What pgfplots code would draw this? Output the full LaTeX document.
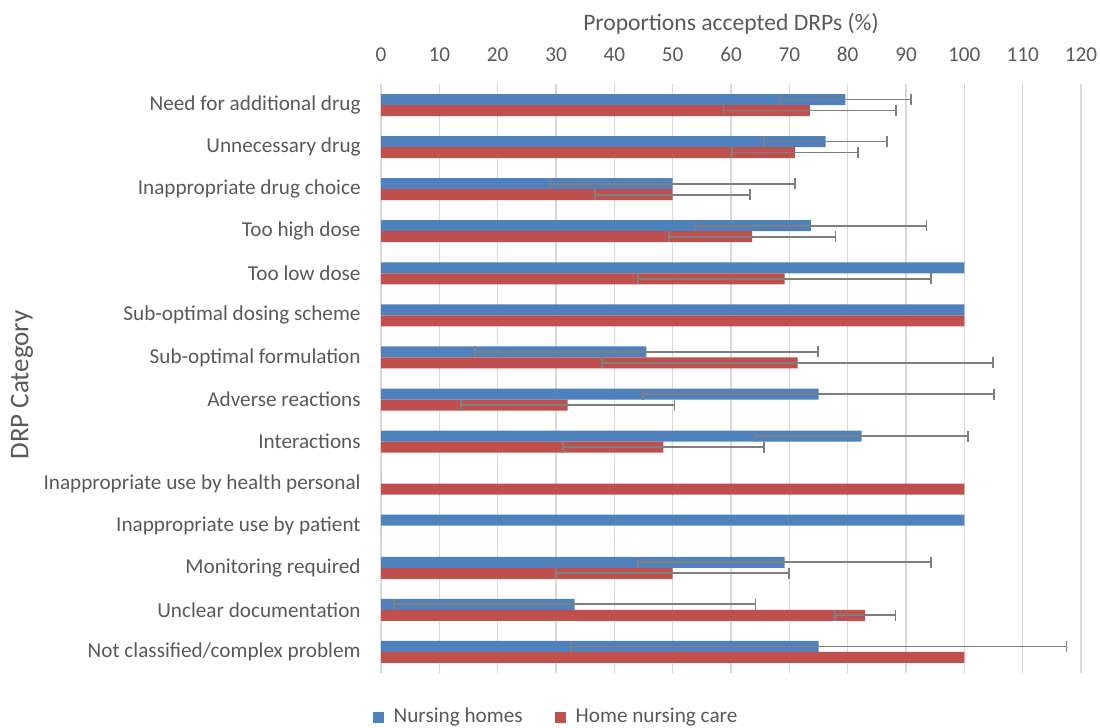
\documentclass[border=0pt]{standalone}
\usepackage{fontspec}
\setmainfont{Carlito}
\usepackage{pgfplots}
\pgfplotsset{compat=1.18}
\definecolor{nhblue}{HTML}{4F81BD}
\definecolor{hcred}{HTML}{C0504D}
\definecolor{txt}{HTML}{595959}
\definecolor{gridc}{HTML}{D9D9D9}
\definecolor{errc}{HTML}{7F7F7F}
\begin{document}
\begin{tikzpicture}
\begin{axis}[
 scale only axis, width=350pt, height=294.5pt,
 xmin=0, xmax=120, ymin=0.5, ymax=14.5,
 xtick={0,10,...,120},
 ytick={1,...,14},
 yticklabels={Not classified/complex problem, Unclear documentation, Monitoring required, Inappropriate use by patient, Inappropriate use by health personal, Interactions, Adverse reactions, Sub-optimal formulation, Sub-optimal dosing scheme, Too low dose, Too high dose, Inappropriate drug choice, Unnecessary drug, Need for additional drug},
 xticklabel pos=upper,
 axis line style={draw=none},
 major tick length=0pt,
 xmajorgrids, major grid style={gridc, line width=0.6pt},
 /pgf/number format/assume math mode=true,
 every tick label/.append style={font=\fontsize{10.6}{12}\selectfont, text=txt},
 xticklabel style={inner sep=0pt, anchor=base, yshift=11pt},
 yticklabel style={inner sep=0pt, anchor=east, xshift=-10pt},
 xlabel={Proportions accepted DRPs (\%)},
 ylabel={DRP Category},
 x label style={at={(axis description cs:0.5,1)}, anchor=base, yshift=26.5pt, font=\fontsize{11.8}{13}\selectfont, text=txt, inner sep=0pt},
 y label style={at={(axis description cs:-0.5129,0.489)}, anchor=center, font=\fontsize{13.5}{15}\selectfont, text=txt, inner sep=0pt},
 xbar, bar width=5.5pt,
 legend columns=2,
 legend style={at={(rel axis cs:0.2514,-0.0747)}, anchor=center, draw=none, fill=none, font=\fontsize{10.6}{12}\selectfont, text=txt,
   /tikz/every odd column/.append style={column sep=3pt},
   /tikz/every even column/.append style={column sep=14pt}},
 legend image code/.code={\fill[#1] (0pt,-2.75pt) rectangle (5.5pt,2.75pt);},
]
\addplot[xbar, bar shift=2.75pt, fill=nhblue, draw=none] coordinates {
(79.6,14) (76.2,13) (50.0,12) (73.7,11) (100,10) (100,9) (45.5,8) (75.0,7) (82.4,6) (0,5) (100,4) (69.2,3) (33.2,2) (75.0,1)};
\addlegendentry{Nursing homes}
\addplot[xbar, bar shift=-2.75pt, fill=hcred, draw=none] coordinates {
(73.5,14) (71.0,13) (50.0,12) (63.6,11) (69.2,10) (100,9) (71.4,8) (32.0,7) (48.4,6) (100,5) (0,4) (50.0,3) (83.0,2) (100,1)};
\addlegendentry{Home nursing care}
% error bars (only where present)
\addplot[forget plot, xbar, bar shift=2.75pt, fill=none, draw=none,
 error bars/.cd, x dir=both, x explicit, error mark=|,
 error bar style={draw=errc, line width=0.9pt},
 error mark options={draw=errc, line width=0.9pt, mark size=2.75pt}]
 coordinates {
(79.6,14) +- (11.3,0)
(76.2,13) +- (10.5,0)
(50.0,12) +- (21.0,0)
(73.7,11) +- (19.8,0)
(45.5,8) +- (29.4,0)
(75.0,7) +- (30.1,0)
(82.4,6) +- (18.2,0)
(69.2,3) +- (25.1,0)
(33.2,2) +- (31.0,0)
(75.0,1) +- (42.5,0)};
\addplot[forget plot, xbar, bar shift=-2.75pt, fill=none, draw=none,
 error bars/.cd, x dir=both, x explicit, error mark=|,
 error bar style={draw=errc, line width=0.9pt},
 error mark options={draw=errc, line width=0.9pt, mark size=2.75pt}]
 coordinates {
(73.5,14) +- (14.8,0)
(71.0,13) +- (10.8,0)
(50.0,12) +- (13.3,0)
(63.6,11) +- (14.3,0)
(69.2,10) +- (25.1,0)
(71.4,8) +- (33.5,0)
(32.0,7) +- (18.3,0)
(48.4,6) +- (17.2,0)
(50.0,3) +- (20.0,0)
(83.0,2) +- (5.2,0)};
\coordinate (bl) at (rel axis cs:-0.5443,-0.0917);
\coordinate (tr) at (rel axis cs:1.0271,1.1426);
\end{axis}
\pgfresetboundingbox
\path[use as bounding box] (bl) rectangle (tr);
\end{tikzpicture}
\end{document}
